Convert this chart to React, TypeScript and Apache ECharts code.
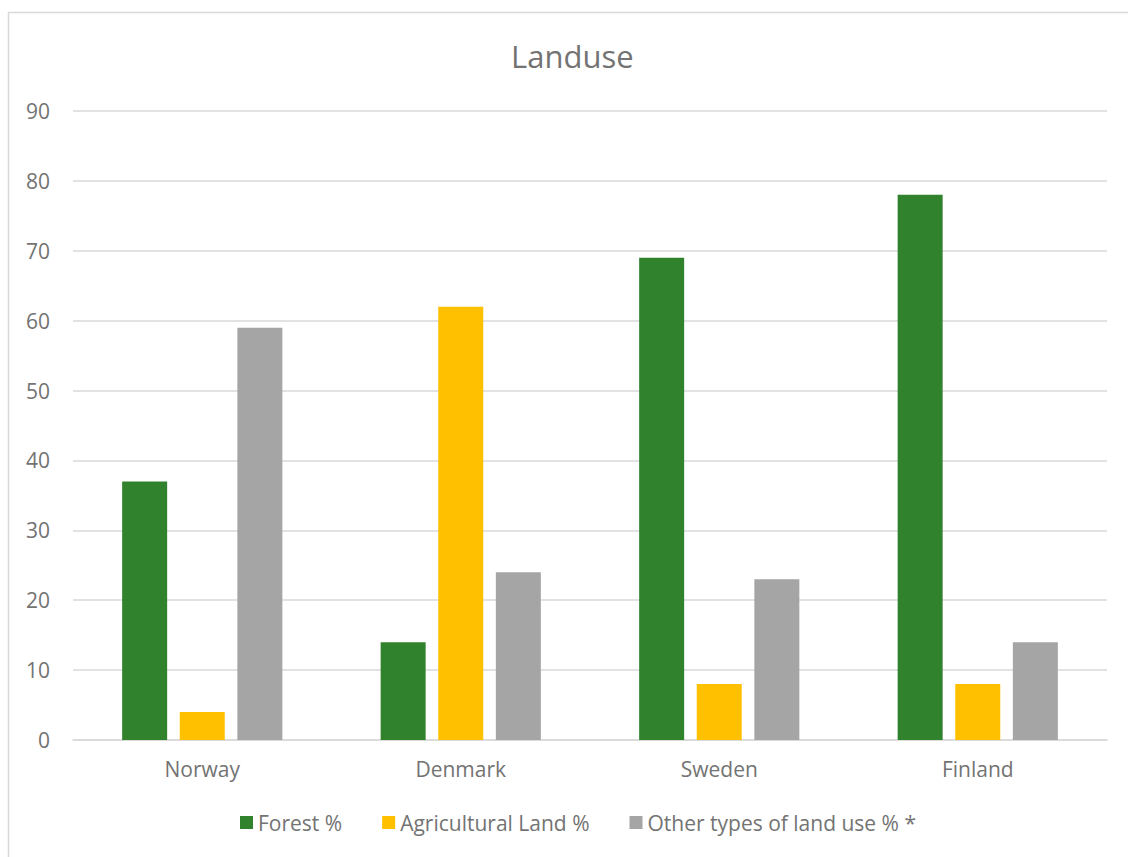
import React, { useEffect, useRef } from "react";
import * as echarts from "echarts";

const categories = ["Norway", "Denmark", "Sweden", "Finland"];
const forest = [37, 14, 69, 78];
const agricultural = [4, 62, 8, 8];
const other = [59, 24, 23, 14];
const seriesNames = ["Forest %", "Agricultural Land %", "Other types of land use % *"];
const colors = ["#31822C", "#FFC000", "#A5A5A5"];

const FONT = "'Open Sans', 'Noto Sans', sans-serif";
const TXT = "#737373";

export default function App() {
  const ref = useRef<HTMLDivElement>(null);
  useEffect(() => {
    if (!ref.current) return;
    const chart = echarts.init(ref.current, undefined, { renderer: "svg" });
    const mk = (name: string, data: number[], color: string) => ({
      name,
      type: "bar",
      data,
      barWidth: 45,
      barGap: "28%",
      itemStyle: { color },
    });
    chart.setOption({
      animation: false,
      backgroundColor: "#ffffff",
      textStyle: { fontFamily: FONT },
      title: {
        text: "Landuse",
        left: 506,
        top: 35,
        textStyle: { fontFamily: FONT, fontSize: 31, fontWeight: "normal", color: TXT },
      },
      graphic: [
        {
          type: "rect",
          shape: { x: 8.5, y: 12.5, width: 1140, height: 870 },
          style: { fill: "none", stroke: "#D9D9D9", lineWidth: 1.5 },
          silent: true,
        },
      ],
      legend: {
        bottom: 19,
        left: 235,
        itemWidth: 13,
        itemHeight: 13,
        itemGap: 40,
        icon: "rect",
        textStyle: { fontFamily: FONT, fontSize: 21, color: TXT },
        data: seriesNames,
      },
      grid: { left: 73, right: 21, top: 111, bottom: 117, containLabel: false },
      xAxis: {
        type: "category",
        data: categories,
        axisLine: { lineStyle: { color: "#D9D9D9", width: 1.5 } },
        axisTick: { show: false },
        axisLabel: { fontFamily: FONT, fontSize: 21, color: TXT, margin: 18 },
      },
      yAxis: {
        type: "value",
        min: 0,
        max: 90,
        interval: 10,
        axisLine: { show: false },
        axisTick: { show: false },
        axisLabel: { fontFamily: FONT, fontSize: 21, color: TXT, margin: 23 },
        splitLine: { lineStyle: { color: "#D9D9D9", width: 1.5 } },
      },
      series: [
        mk(seriesNames[0], forest, colors[0]),
        mk(seriesNames[1], agricultural, colors[1]),
        mk(seriesNames[2], other, colors[2]),
      ],
    });
    return () => chart.dispose();
  }, []);
  return (
    <div
      ref={ref}
      style={{ position: "fixed", left: 0, top: 0, width: 1128, height: 857 }}
    />
  );
}
